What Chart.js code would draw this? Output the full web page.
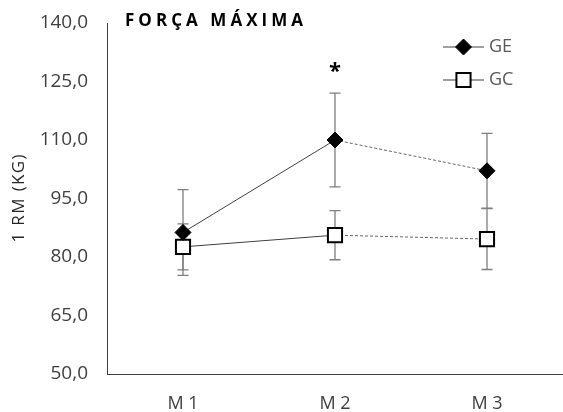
<!DOCTYPE html>
<html>
<head>
<meta charset="utf-8">
<script src="https://cdn.jsdelivr.net/npm/chart.js@4.4.1/dist/chart.umd.min.js"></script>
<style>
html, body { margin: 0; padding: 0; background: #fff; }
#wrap { width: 563px; height: 412px; position: relative; }
</style>
</head>
<body>
<div id="wrap"><canvas id="myChart"></canvas></div>
<script>
// dados (1 RM em kg)
var momentos = ['M 1', 'M 2', 'M 3'];
var geMedia = [86.3, 110.0, 102.1];
var geDp = [11.0, 12.0, 9.6];
var gcMedia = [82.6, 85.6, 84.6];
var gcDp = [5.9, 6.3, 7.8];
var yTicks = [50, 65, 80, 95, 110, 125, 140];
var tituloGrafico = 'FORÇA MÁXIMA';
var tituloY = '1 RM (KG)';
var asteriscoIdx = 1;
var asteriscoValor = 127.5;

var fonte = "'Open Sans', sans-serif";

function virgula(v) {
  return v.toFixed(1).replace('.', ',');
}

// escreve o texto com espaçamento entre letras ajustado a uma largura
function textoEspacado(ctx, txt, x, y, largura) {
  ctx.letterSpacing = '0px';
  var w0 = ctx.measureText(txt).width;
  var esp = (largura - w0) / (txt.length - 1);
  ctx.letterSpacing = esp + 'px';
  ctx.fillText(txt, x, y);
  ctx.letterSpacing = '0px';
}

// barras de erro, asterisco, titulos e legenda
var extras = {
  id: 'extras',
  beforeDatasetsDraw: function (chart) {
    var ctx = chart.ctx;
    var xs = chart.scales.x, ys = chart.scales.y;
    var series = [[geMedia, geDp], [gcMedia, gcDp]];
    ctx.save();
    ctx.strokeStyle = '#7f7f7f';
    ctx.lineWidth = 1.3;
    series.forEach(function (s) {
      for (var i = 0; i < s[0].length; i++) {
        var x = xs.getPixelForValue(i);
        var y1 = ys.getPixelForValue(s[0][i] + s[1][i]);
        var y2 = ys.getPixelForValue(s[0][i] - s[1][i]);
        ctx.beginPath();
        ctx.moveTo(x, y1); ctx.lineTo(x, y2);
        ctx.moveTo(x - 5.5, y1); ctx.lineTo(x + 5.5, y1);
        ctx.moveTo(x - 5.5, y2); ctx.lineTo(x + 5.5, y2);
        ctx.stroke();
      }
    });
    ctx.restore();
  },
  afterDraw: function (chart) {
    var ctx = chart.ctx;
    var xs = chart.scales.x, ys = chart.scales.y;
    ctx.save();
    // asterisco
    ctx.fillStyle = '#000';
    ctx.font = 'bold 22px ' + fonte;
    ctx.textAlign = 'center';
    ctx.textBaseline = 'middle';
    ctx.fillText('*', xs.getPixelForValue(asteriscoIdx), ys.getPixelForValue(asteriscoValor));

    // titulo do grafico
    ctx.font = 'bold 17px ' + fonte;
    ctx.textAlign = 'left';
    ctx.textBaseline = 'alphabetic';
    ctx.fillStyle = '#000';
    textoEspacado(ctx, tituloGrafico, 125, 26, 178);

    // titulo do eixo y
    ctx.save();
    ctx.translate(19, (chart.chartArea.top + chart.chartArea.bottom) / 2);
    ctx.rotate(-Math.PI / 2);
    ctx.font = '17px ' + fonte;
    ctx.fillStyle = '#262626';
    ctx.textBaseline = 'middle';
    textoEspacado(ctx, tituloY, -44, 0, 88);
    ctx.restore();

    // legenda
    var itens = [
      { txt: 'GE', y: 47, estilo: 'rectRot', raio: 8, fundo: '#000', bw: 1 },
      { txt: 'GC', y: 80, estilo: 'rect', raio: 10, fundo: '#fff', bw: 2 }
    ];
    itens.forEach(function (it) {
      ctx.strokeStyle = '#404040';
      ctx.lineWidth = 1;
      ctx.beginPath();
      ctx.moveTo(443, it.y); ctx.lineTo(484, it.y);
      ctx.stroke();
      ctx.fillStyle = it.fundo;
      ctx.strokeStyle = '#000';
      ctx.lineWidth = it.bw;
      Chart.helpers.drawPoint(ctx, { pointStyle: it.estilo, radius: it.raio, borderWidth: it.bw, rotation: 0 }, 463.5, it.y);
      ctx.fillStyle = '#595959';
      ctx.font = '18px ' + fonte;
      ctx.textAlign = 'left';
      ctx.textBaseline = 'middle';
      ctx.fillText(it.txt, 489, it.y);
    });
    ctx.restore();
  }
};

var ctx = document.getElementById('myChart').getContext('2d');
var chart = new Chart(ctx, {
  type: 'line',
  data: {
    labels: momentos,
    datasets: [
      {
        label: 'GE',
        data: geMedia,
        borderColor: '#404040',
        borderWidth: 1,
        pointStyle: 'rectRot',
        pointRadius: 8,
        pointBackgroundColor: '#000',
        pointBorderColor: '#000',
        pointBorderWidth: 1,
        segment: {
          borderDash: function (c) { return c.p0DataIndex === 1 ? [3, 2] : undefined; },
          borderColor: function (c) { return c.p0DataIndex === 1 ? '#666' : '#404040'; }
        }
      },
      {
        label: 'GC',
        data: gcMedia,
        borderColor: '#404040',
        borderWidth: 1,
        pointStyle: 'rect',
        pointRadius: 10,
        pointBackgroundColor: '#fff',
        pointBorderColor: '#000',
        pointBorderWidth: 2,
        segment: {
          borderDash: function (c) { return c.p0DataIndex === 1 ? [3, 2] : undefined; },
          borderColor: function (c) { return c.p0DataIndex === 1 ? '#666' : '#404040'; }
        }
      }
    ]
  },
  options: {
    responsive: true,
    maintainAspectRatio: false,
    animation: false,
    devicePixelRatio: 1,
    layout: { autoPadding: false, padding: { top: 23, right: 0, left: 0, bottom: 0 } },
    plugins: {
      legend: { display: false },
      tooltip: { enabled: false }
    },
    scales: {
      x: {
        offset: true,
        grid: { display: false, drawTicks: false },
        border: { display: true, color: '#404040', width: 1 },
        ticks: { color: '#404040', font: { family: fonte, size: 18 }, padding: 19 },
        afterFit: function (s) {
          s.height = 38;
          s.paddingLeft = 0; s.paddingRight = 0;
        }
      },
      y: {
        min: 50,
        max: 140,
        afterBuildTicks: function (s) { s.ticks = yTicks.map(function (v) { return { value: v }; }); },
        grid: { display: false, drawTicks: false },
        border: { display: true, color: '#404040', width: 1 },
        ticks: {
          color: '#404040',
          font: { family: fonte, size: 19 },
          padding: 19,
          callback: function (v) { return virgula(v); }
        },
        afterFit: function (s) {
          s.width = 107;
          s.paddingTop = 0; s.paddingBottom = 0;
        }
      }
    }
  },
  plugins: [extras]
});
</script>
</body>
</html>
